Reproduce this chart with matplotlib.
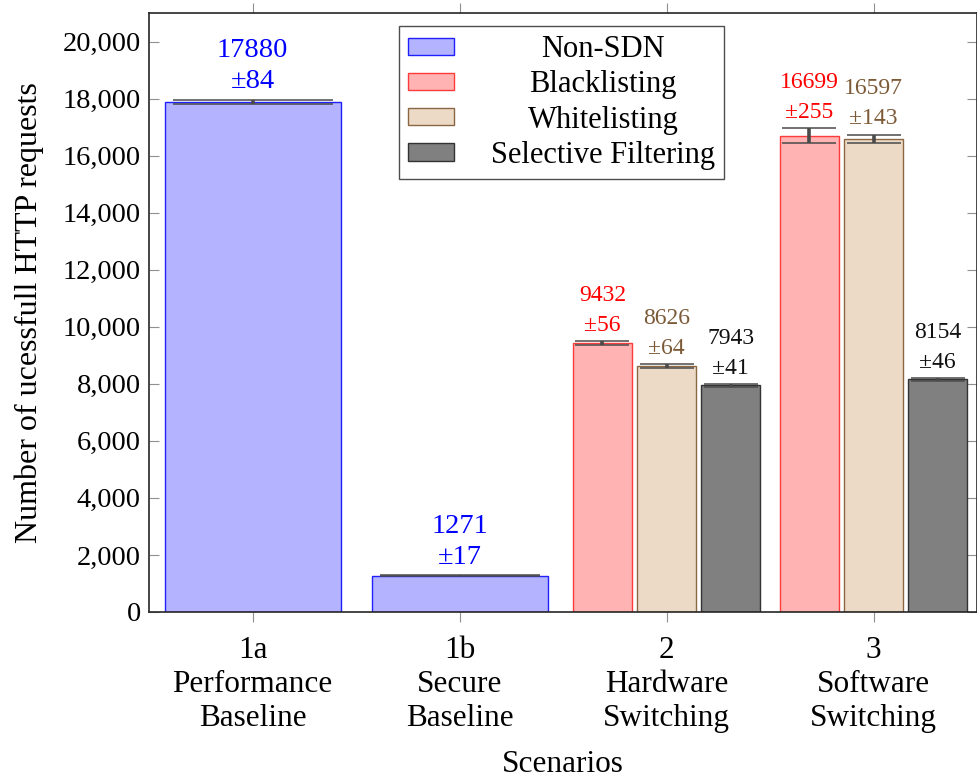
import matplotlib
matplotlib.use("Agg")
import matplotlib.pyplot as plt
from matplotlib.patches import Patch
from matplotlib.ticker import FuncFormatter

plt.rcParams['font.family'] = ['Liberation Serif', 'DejaVu Serif']

# data
scenarios = ["1a\nPerformance\nBaseline", "1b\nSecure\nBaseline",
             "2\nHardware\nSwitching", "3\nSoftware\nSwitching"]
nonsdn_vals = [17880, 1271]
nonsdn_err = [84, 17]
black_vals = [9432, 16699]
black_err = [56, 255]
white_vals = [8626, 16597]
white_err = [64, 143]
selective_vals = [7943, 8154]
selective_err = [41, 46]

series_names = ["Non-SDN", "Blacklisting", "Whitelisting", "Selective Filtering"]
fills = ["#b3b3ff", "#ffb3b3", "#ecdac6", "#808080"]
edges = ["#2020ff", "#ff3a3a", "#8b6642", "#333333"]
textcols = ["#0000ff", "#ff0000", "#7d5a37", "#111111"]

fig = plt.figure(figsize=(9.78, 7.78), dpi=100)
ax = fig.add_axes([0.1524, 0.2134, 0.8466, 0.7699])

x = list(range(len(scenarios)))
wide = 0.85
narrow = 0.285
step = 0.31


def draw(xs, vals, errs, k, width, fs, ls):
  ax.bar(xs, vals, width, color=fills[k], edgecolor=edges[k], linewidth=1.0, zorder=2)
  # capsize is half the cap length, in points
  cap = width * 207 * 0.91 * 0.72 / 2
  ax.errorbar(xs, vals, yerr=errs, fmt='none', ecolor='#4a4a4a', elinewidth=2.6,
              capsize=cap, capthick=1.1, zorder=3)
  for xi, v, e in zip(xs, vals, errs):
    ax.annotate("%d\n±%d" % (v, e), (xi, v + e), xytext=(0, 4), textcoords='offset points',
                ha='center', va='bottom', color=textcols[k], fontsize=fs, linespacing=ls)


draw(x[:2], nonsdn_vals, nonsdn_err, 0, wide, 20.5, 1.32)
grp = x[2:]
draw([g - step for g in grp], black_vals, black_err, 1, narrow, 17, 1.55)
draw(grp, white_vals, white_err, 2, narrow, 17, 1.55)
draw([g + step for g in grp], selective_vals, selective_err, 3, narrow, 17, 1.55)

ax.set_xlim(-0.5, 3.5)
ax.set_ylim(0, 21000)
ax.set_xticks(x)
ax.set_xticklabels(scenarios, fontsize=22.5, linespacing=1.24)
ax.set_yticks(range(0, 20001, 2000))
ax.yaxis.set_major_formatter(FuncFormatter(lambda v, p: "{:,}".format(int(v))))
ax.tick_params(axis='y', direction='in', length=7, color='#909090', labelsize=20.5,
               left=True, right=True, pad=6)
ax.tick_params(axis='x', direction='out', length=7, color='#909090', pad=10,
               top=True, bottom=True)
for s in ax.spines.values():
  s.set_color('#262626')
  s.set_linewidth(1.2)

ax.set_ylabel("Number of ucessfull HTTP requests", fontsize=23, labelpad=13)
ax.set_xlabel("Scenarios", fontsize=22.5, labelpad=12)

handles = [Patch(facecolor=fills[k], edgecolor=edges[k]) for k in range(4)]
leg = ax.legend(handles, series_names, loc='upper left', bbox_to_anchor=(0.302, 0.978),
                fontsize=22, frameon=True, fancybox=False, edgecolor='#222222',
                handlelength=1.5, handleheight=0.5, labelspacing=0.2, borderpad=0.3,
                handletextpad=1.2, borderaxespad=0)
leg.get_frame().set_linewidth(1.0)

# center legend texts like pgfplots does
fig.canvas.draw()
r = fig.canvas.get_renderer()
texts = leg.get_texts()
ws = [t.get_window_extent(r).width for t in texts]
for t, w in zip(texts, ws):
  t.set_x((max(ws) - w) / 2)

fig.savefig("out.png", dpi=100)
